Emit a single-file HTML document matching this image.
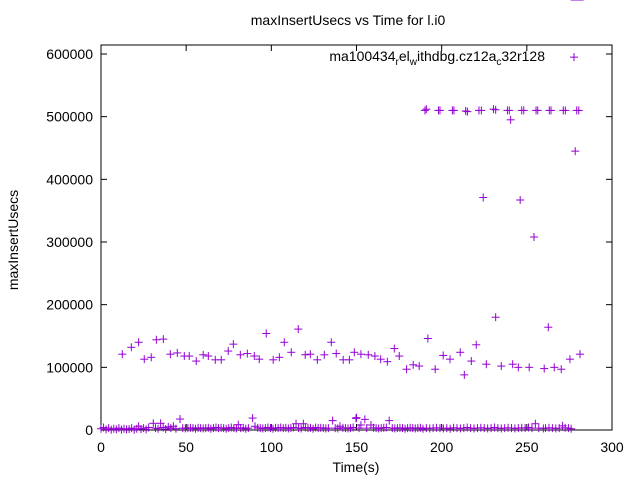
<!DOCTYPE html>
<html><head><meta charset="utf-8"><style>
body{margin:0;background:#fff;font-family:"Liberation Sans",sans-serif;}
svg text{font-family:"Liberation Sans",sans-serif;font-size:14px;fill:#000;}
</style></head><body>
<svg id="chart" width="640" height="480" xmlns="http://www.w3.org/2000/svg">
<text x="348" y="25" text-anchor="middle">maxInsertUsecs vs Time for l.i0</text>
<text x="356" y="472" text-anchor="middle">Time(s)</text>
<text transform="translate(18,240) rotate(-90)" text-anchor="middle">maxInsertUsecs</text>
<g id="ticks"></g>
<rect x="101" y="45" width="511" height="385" fill="none" stroke="#000" stroke-width="1"/>
<text x="545" y="61" text-anchor="end">ma100434<tspan font-size="10" dy="4">r</tspan><tspan dy="-4">el</tspan><tspan font-size="10" dy="4">w</tspan><tspan dy="-4">ithdbg.cz12a</tspan><tspan font-size="10" dy="4">c</tspan><tspan dy="-4">32r128</tspan></text>
<g id="marks"></g>
</svg>
<script>
const xTicks=[0,50,100,150,200,250,300];
const yTicks=[0,100000,200000,300000,400000,500000,600000];
const hiTimes=[190.2,191.0,198.1,199.0,206.3,207.2,214.1,215.1,221.9,223.3,230.4,231.7,238.6,239.7,247.0,248.2,255.4,256.4,263.2,264.2,271.4,272.6,279.3,280.5,240.5,224.4,246.1,254.2,278.4];
const hiValues=[510000,512000,510000,510000,510000,510000,509000,508000,510000,510000,512000,511000,510000,510000,510000,510000,510000,510000,510000,510000,510000,510000,510000,510000,495000,371000,367000,308000,445000];
const midTimes=[12.5,17.8,22.1,25.4,29.5,32.5,36.6,40.7,44.8,48.9,51.8,55.9,60.0,63.0,67.1,70.6,74.7,77.7,81.8,85.9,90.0,92.9,97.0,101.1,104.7,107.6,111.7,115.8,119.9,122.9,127.0,131.1,135.2,138.1,142.2,145.8,148.7,152.6,156.9,160.8,164.2,168.1,172.2,175.1,179.4,183.3,186.8,191.9,196.2,200.9,204.9,210.9,213.3,217.4,220.3,226.2,231.7,235.0,241.7,245.0,251.4,262.6,260.2,266.1,270.2,275.3,281.2];
const midValues=[121000,132000,140000,113000,116000,144000,145000,121000,123000,118000,118000,110000,120000,118000,112000,112000,126000,137000,120000,122000,118000,113000,154000,112000,116000,140000,124000,161000,120000,121000,112000,120000,140000,122000,112000,112000,124000,121000,120000,118000,113000,109000,130000,118000,97000,104000,102000,146000,97000,119000,113000,124000,88000,110000,136000,105000,180000,102000,105000,100000,100000,164000,98000,100000,97000,113000,121000];
const lowTimes=[0,1.5,3,4.5,6,7.5,9,10.5,12,13.5,15,16.5,18,19.5,21,22.1,23.5,25,26.5,28,30.7,32,33.5,35,36.5,38,39.5,41,42.5,44,46.4,48,49.5,51,52.5,54,55.5,57,58.5,60,61.5,63,64.5,66,67.5,69,70.5,72,73.5,75,76.5,78,79.5,80.6,82,83.5,85,86.5,89,90.4,92,93.5,95,96.5,98,99.5,101,102.5,104,105.5,107,108.5,110,111.5,113,114.5,116,117.5,118.8,120,121.5,123,124.5,126,127.5,129,130.5,132,133.5,136,137.5,139,140.3,142,143.5,145,146.5,148,149.7,150,151.5,152.6,154.9,156,158.5,160,161.5,163,164.5,166,167.5,169.2,171,172.5,174,175.5,177,178.5,180,181.5,183,184.5,186,187.5,189,191,193,195,197,199,201,203,205,207,209,211,213,215,217,219,221,223,225,227,229,231,233,235,237,239,241,243,245,247,249,251,253,255,257,259.7,261,263,265,267,269,271,272.5,274.4,276,278,281];
const lowValues=[2000,4000,1000,3000,500,2000,1000,3000,500,2000,1000,1500,3000,500,2000,6000,1500,3000,1000,4000,10700,3000,2000,10700,4000,1500,5000,3000,6000,2000,17500,3000,2500,3000,3500,3000,2000,3500,3000,2500,3000,3500,2000,3000,4000,3000,3500,3000,2000,3000,4000,3000,2500,8500,3000,3500,2000,3000,19000,6000,3500,3000,2500,3000,4000,3000,2000,3500,3000,4000,3000,3500,2500,3000,4000,10000,3000,2500,10000,4000,3000,3500,2000,4000,3000,3500,3000,2500,3000,15000,3000,2500,6000,3500,3000,2500,3000,4000,18600,19700,3000,8000,17000,3000,8000,3500,3000,2500,3000,3500,4000,15000,3000,2500,3000,3500,3000,2000,3000,3500,3000,2500,3000,3500,2000,3000,2500,3000,3500,3000,2500,3000,2000,3500,3000,2500,3000,4000,3000,2500,3000,3500,3000,2500,3000,4000,3000,2500,3000,3500,3000,2500,3000,3500,3000,4000,3000,10000,3000,2500,3000,3500,3000,2500,3000,6600,3500,3000,2000];
const legendMark=[595000];
const X=t=>101+t/300*511;
const Y=v=>430-v/600000*376;
const NS='http://www.w3.org/2000/svg';
const tg=document.getElementById('ticks');
function line(g,x1,y1,x2,y2,c){const l=document.createElementNS(NS,'line');l.setAttribute('x1',x1);l.setAttribute('y1',y1);l.setAttribute('x2',x2);l.setAttribute('y2',y2);l.setAttribute('stroke',c);l.setAttribute('stroke-width','1');g.appendChild(l);return l;}
xTicks.forEach(t=>{const x=X(t);
const a=line(tg,x,430,x,424,'#000');


line(tg,x,45,x,51,'#000');
const tx=document.createElementNS(NS,'text');tx.setAttribute('x',x);tx.setAttribute('y',452);tx.setAttribute('text-anchor','middle');tx.textContent=t;


tg.appendChild(tx);});
yTicks.forEach(v=>{const y=Y(v);
const a=line(tg,101,y,107,y,'#000');


line(tg,612,y,606,y,'#000');
const tx=document.createElementNS(NS,'text');tx.setAttribute('x',93);tx.setAttribute('y',y+5);tx.setAttribute('text-anchor','end');tx.textContent=v;


tg.appendChild(tx);});
const mg=document.getElementById('marks');
function plus(x,y,name){const g=document.createElementNS(NS,'g');
line(g,x-4,y,x+4,y,'#9400d3');line(g,x,y-4,x,y+4,'#9400d3');


mg.appendChild(g);}
[[lowTimes,lowValues],[midTimes,midValues],[hiTimes,hiValues]].forEach(([ts,vs])=>{ts.forEach((t,i)=>plus(X(t),Y(vs[i]),'data-point'));});
plus(574,Y(legendMark[0]),'legend-marker');
</script>
</body></html>
